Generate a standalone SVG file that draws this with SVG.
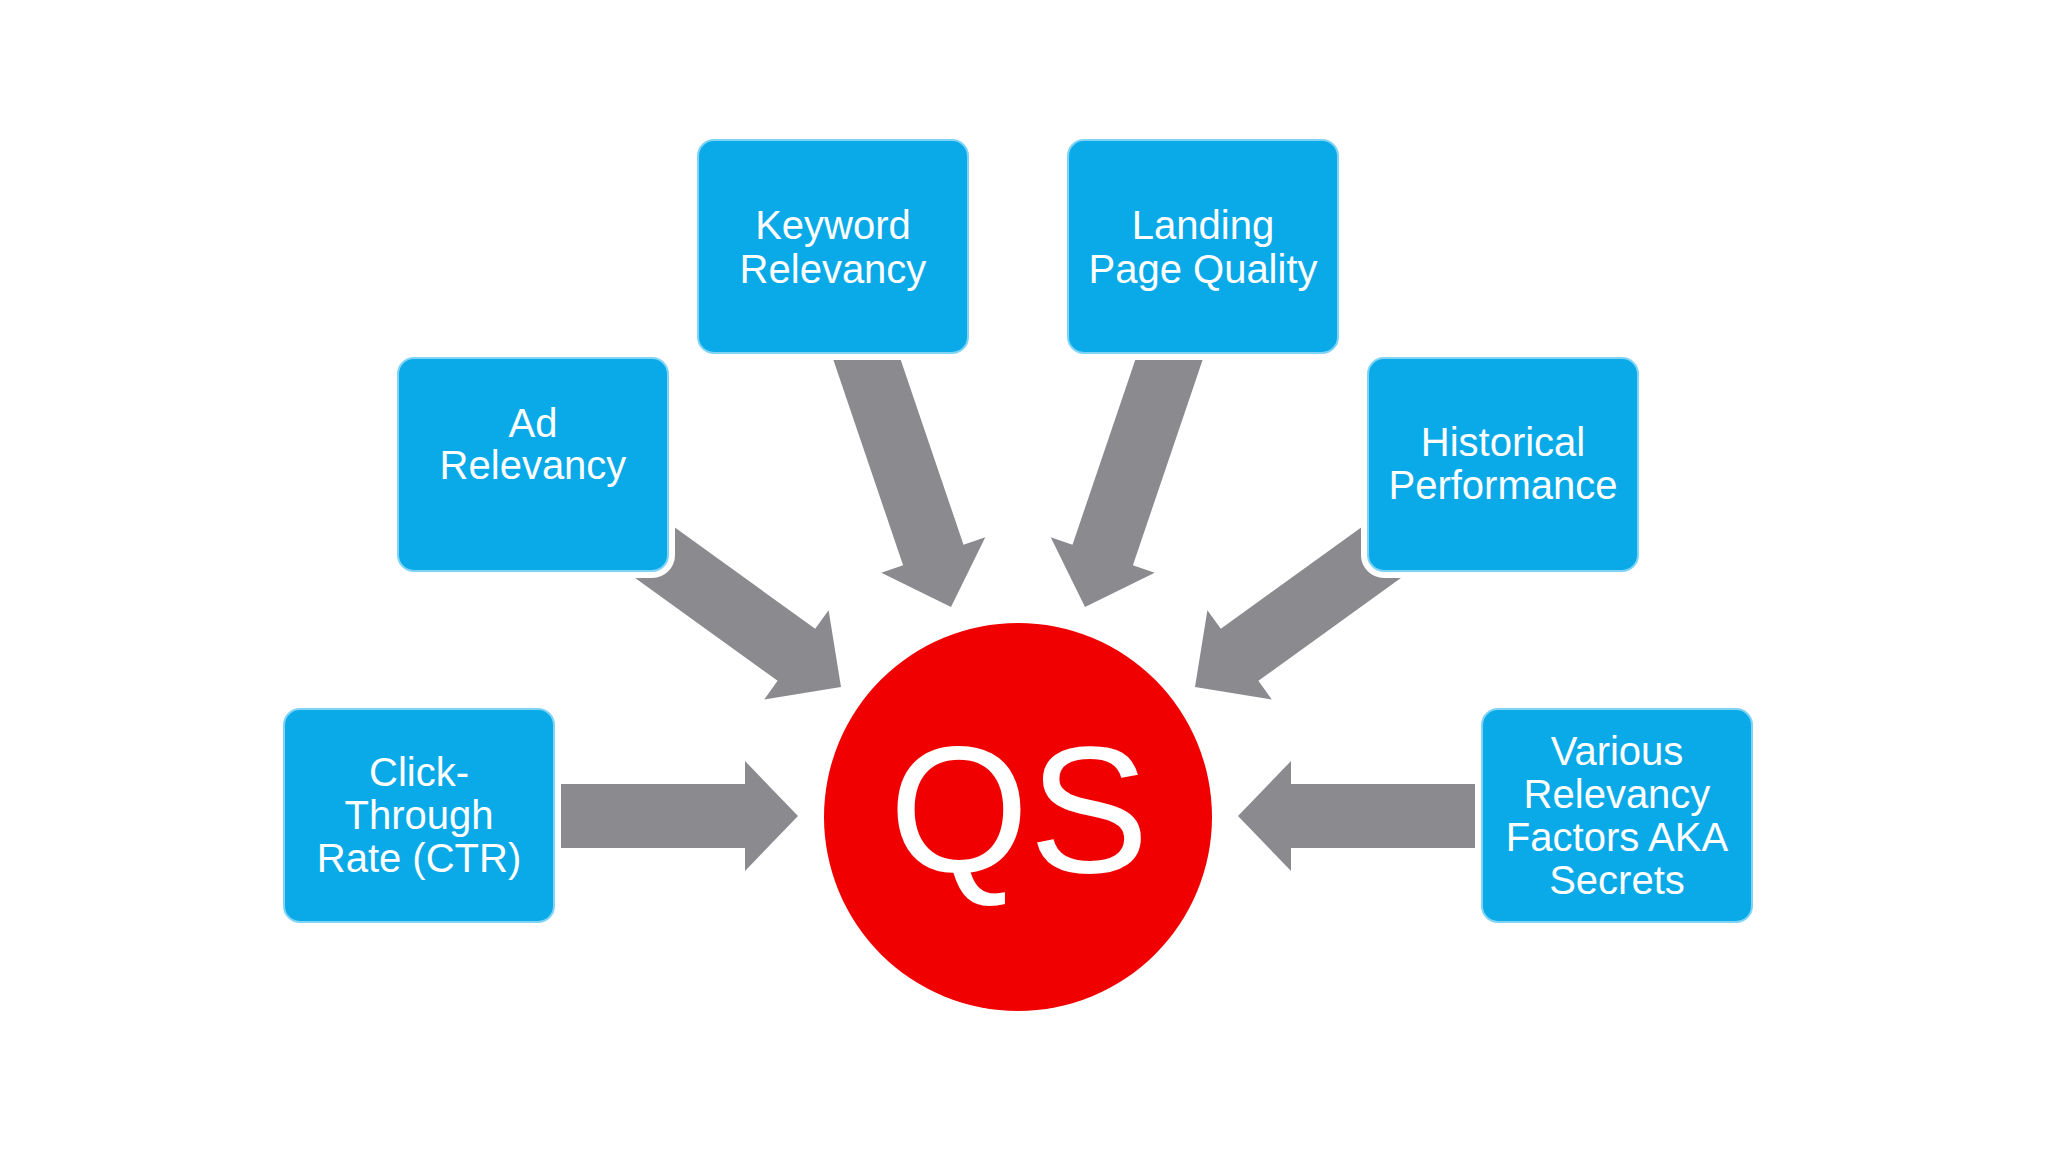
<svg xmlns="http://www.w3.org/2000/svg" width="2048" height="1152" viewBox="0 0 2048 1152">
<style>
.bg{fill:#ffffff}
.arrow{fill:#8b8b8f}
.halo{fill:#ffffff;stroke:#ffffff;stroke-width:14}
.box{fill:#0aaae8;stroke:#7fd4f5;stroke-width:2}
.lbl{font-family:"Liberation Sans",Arial,sans-serif;font-size:40px;fill:#ffffff;text-anchor:middle}
.qs{font-family:"Liberation Sans",Arial,sans-serif;font-size:180px;fill:#ffffff;text-anchor:middle}
</style>
<rect class="bg" x="0" y="0" width="2048" height="1152"/>
<g id="connectors">
<polygon class="arrow" points="561,784 745,784 745,761 798,816 745,871 745,848 561,848"/>
<polygon class="arrow" points="1475,784 1291,784 1291,761 1238,816 1291,871 1291,848 1475,848"/>
<polygon class="arrow" points="890.5,329.7 963.5,544.7 985.3,537.3 951,607 881.3,572.7 903.1,565.3 830.1,350.3"/>
<polygon class="arrow" points="1145.5,329.7 1072.5,544.7 1050.7,537.3 1085,607 1154.7,572.7 1132.9,565.3 1205.9,350.3"/>
<polygon class="arrow" points="639.8,502.2 815.2,628.8 828.6,610.2 841,687 764.2,699.4 777.6,680.8 602.2,554.2"/>
<polygon class="arrow" points="1396.2,502.2 1220.8,628.8 1207.4,610.2 1195,687 1271.8,699.4 1258.4,680.8 1433.8,554.2"/>
</g>
<g id="keyword">
<rect class="halo" x="698" y="140" width="270" height="213" rx="16"/>
<rect class="box" x="698" y="140" width="270" height="213" rx="16"/>
<text class="lbl" x="833" y="239">Keyword</text>
<text class="lbl" x="833" y="283">Relevancy</text>
</g>
<g id="landing">
<rect class="halo" x="1068" y="140" width="270" height="213" rx="16"/>
<rect class="box" x="1068" y="140" width="270" height="213" rx="16"/>
<text class="lbl" x="1203" y="239">Landing</text>
<text class="lbl" x="1203" y="283">Page Quality</text>
</g>
<g id="ad">
<rect class="halo" x="398" y="358" width="270" height="213" rx="16"/>
<rect class="box" x="398" y="358" width="270" height="213" rx="16"/>
<text class="lbl" x="533" y="437">Ad</text>
<text class="lbl" x="533" y="479">Relevancy</text>
</g>
<g id="historical">
<rect class="halo" x="1368" y="358" width="270" height="213" rx="16"/>
<rect class="box" x="1368" y="358" width="270" height="213" rx="16"/>
<text class="lbl" x="1503" y="456">Historical</text>
<text class="lbl" x="1503" y="499">Performance</text>
</g>
<g id="ctr">
<rect class="halo" x="284" y="709" width="270" height="213" rx="16"/>
<rect class="box" x="284" y="709" width="270" height="213" rx="16"/>
<text class="lbl" x="419" y="786">Click-</text>
<text class="lbl" x="419" y="829">Through</text>
<text class="lbl" x="419" y="872">Rate (CTR)</text>
</g>
<g id="various">
<rect class="halo" x="1482" y="709" width="270" height="213" rx="16"/>
<rect class="box" x="1482" y="709" width="270" height="213" rx="16"/>
<text class="lbl" x="1617" y="765">Various</text>
<text class="lbl" x="1617" y="808">Relevancy</text>
<text class="lbl" x="1617" y="851">Factors AKA</text>
<text class="lbl" x="1617" y="894">Secrets</text>
</g>
<g id="qs">
<circle cx="1018" cy="817" r="194" fill="#f00000"/>
<text class="qs" x="1019" y="872">QS</text>
</g>
</svg>
